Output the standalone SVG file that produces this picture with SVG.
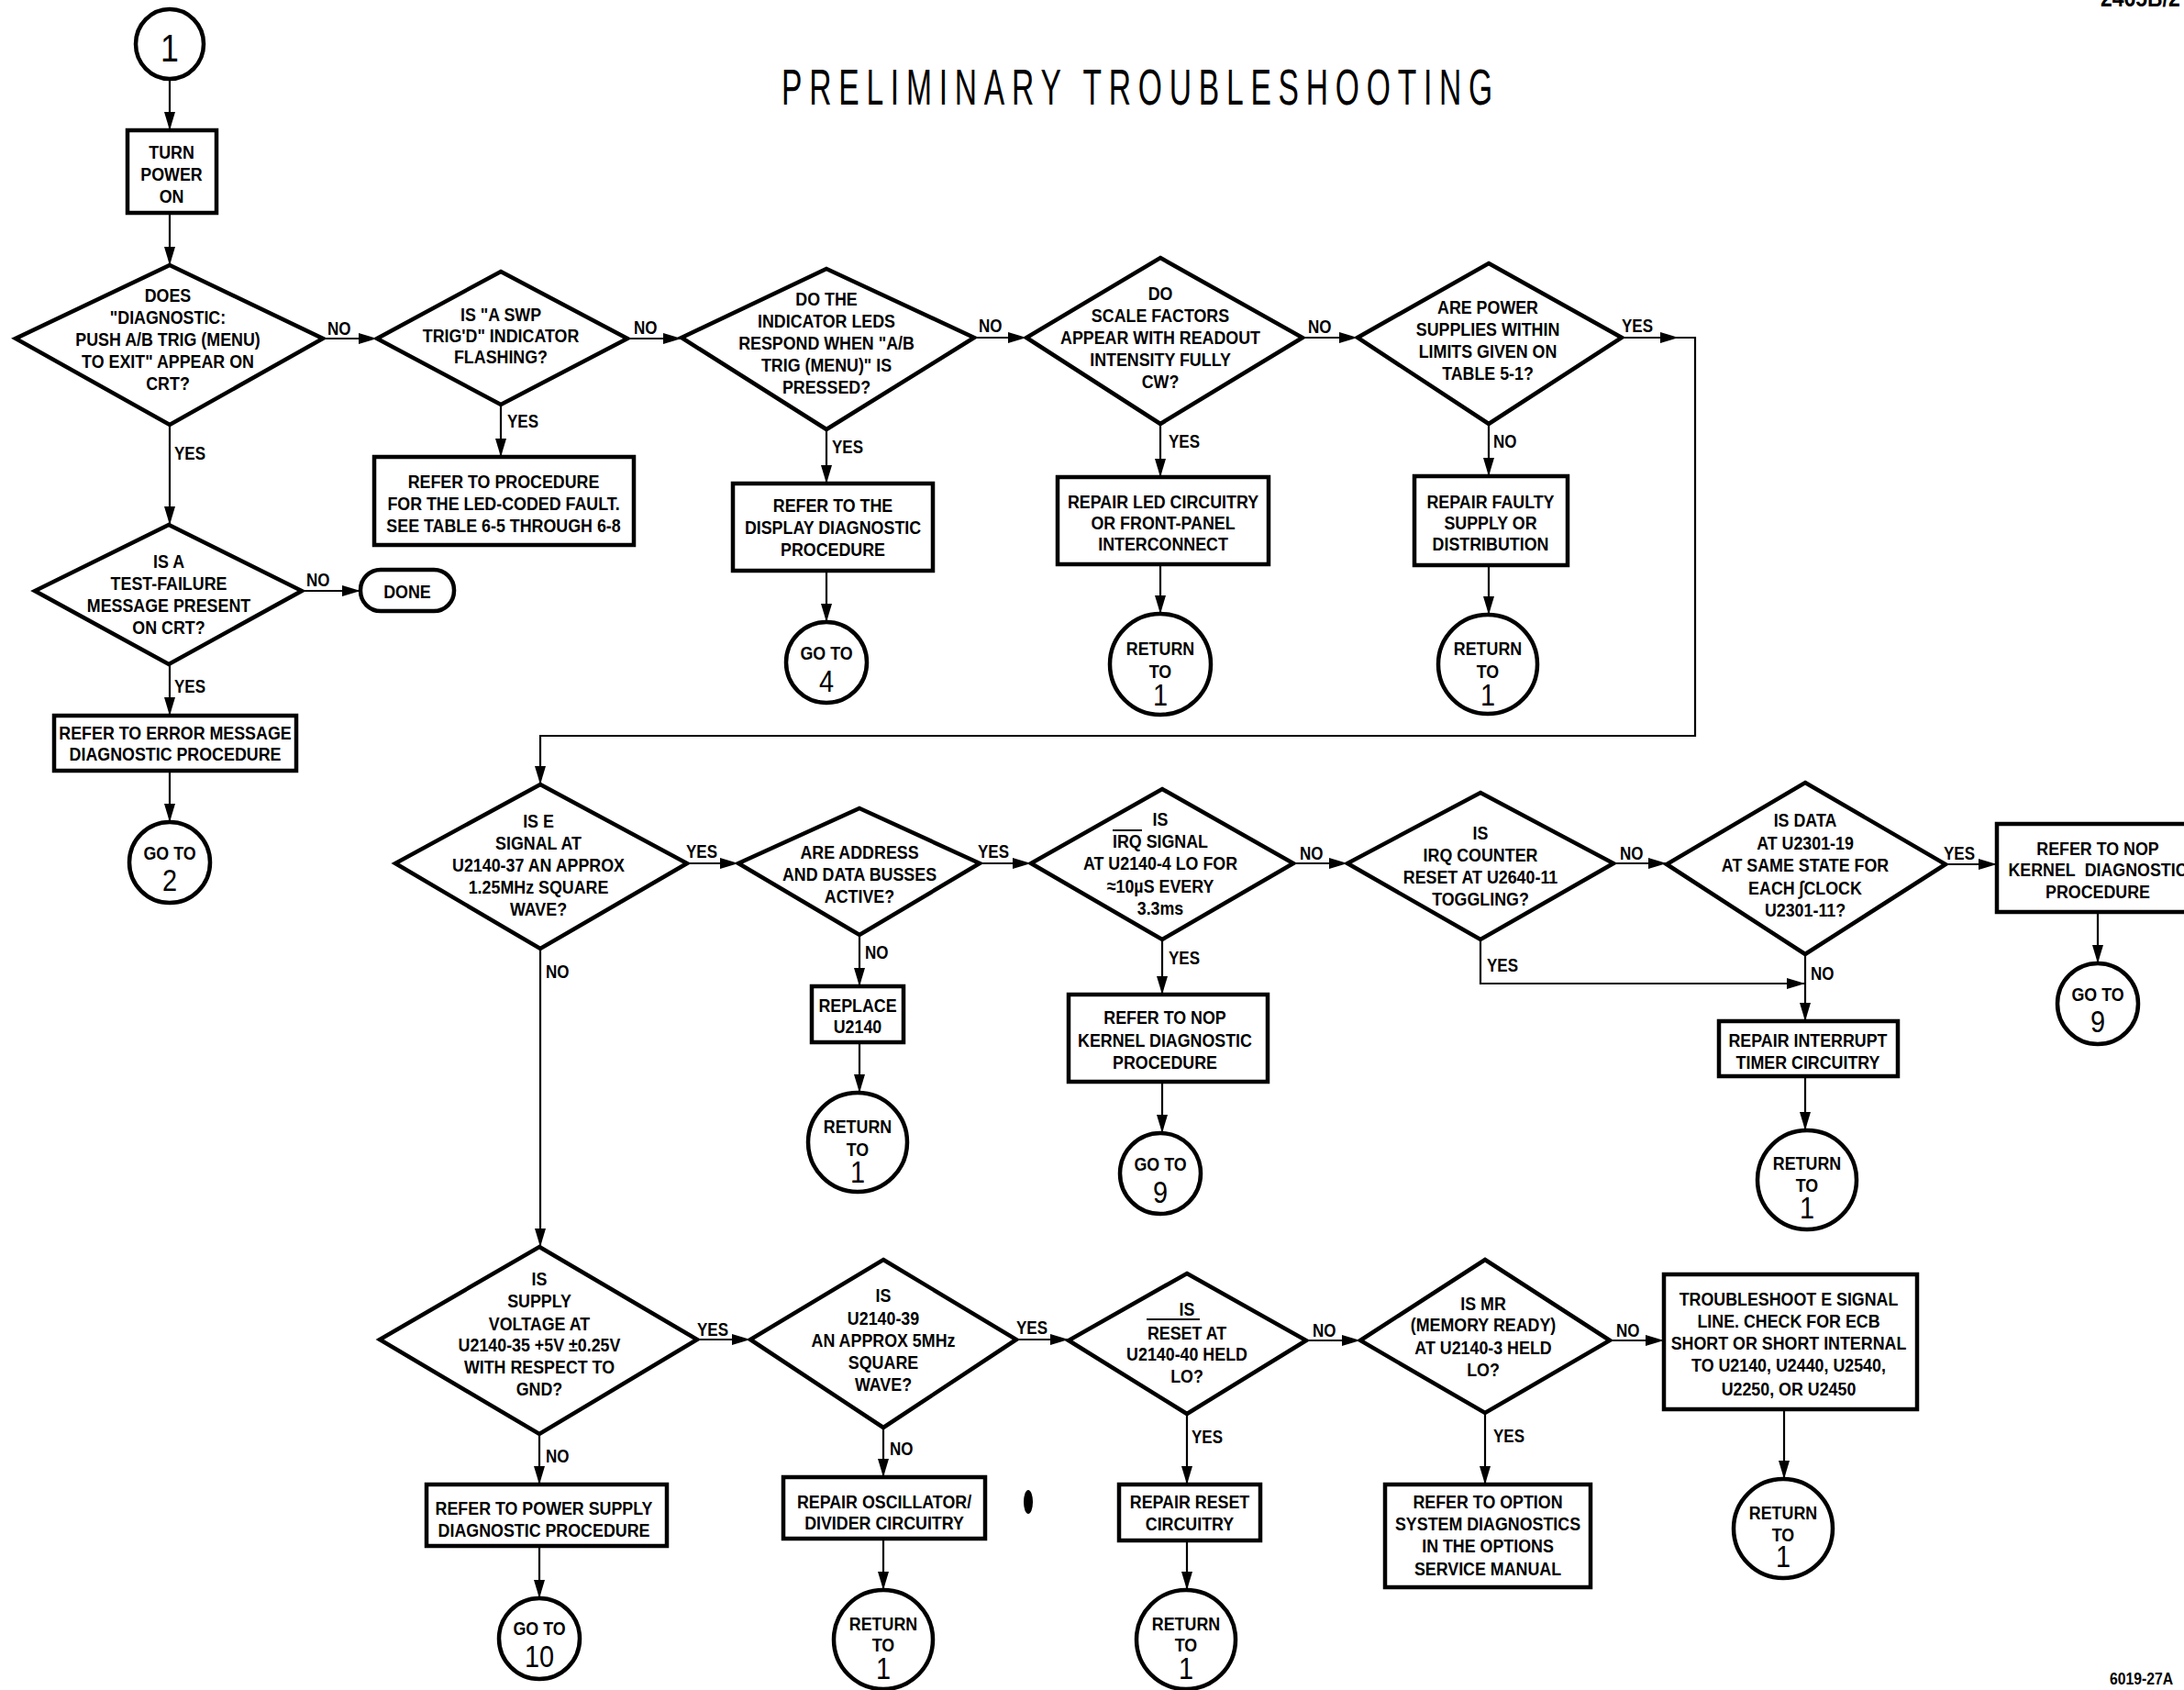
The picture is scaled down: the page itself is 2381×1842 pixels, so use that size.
<svg xmlns="http://www.w3.org/2000/svg" width="2381" height="1842" viewBox="0 0 2381 1842">
<style>
.n{fill:#fff;stroke:#000;stroke-width:4.5;stroke-linejoin:miter}
.c{fill:none;stroke:#000;stroke-width:2.2}
.t{font-family:"Liberation Sans",Arial,sans-serif;font-weight:700;font-size:21px;text-anchor:middle;fill:#000}
.l{font-family:"Liberation Sans",Arial,sans-serif;font-weight:700;font-size:20px;text-anchor:start;fill:#000}
.num{font-family:"Liberation Sans",Arial,sans-serif;font-weight:400;font-size:34px;text-anchor:middle;fill:#000}
.title{font-family:"Liberation Sans",Arial,sans-serif;font-weight:400;font-size:56px;fill:#000}
.bar{stroke:#000;stroke-width:2}
</style>
<defs>
<marker id="ah" markerUnits="userSpaceOnUse" markerWidth="20" markerHeight="12" refX="20" refY="6" orient="auto"><path d="M0,0 L20,6 L0,12 z" fill="#000"/></marker>
</defs>
<rect x="0" y="0" width="2381" height="1842" fill="#fff"/>

<text class="title" transform="translate(852 114) scale(0.6 1)" textLength="1292" lengthAdjust="spacing">PRELIMINARY TROUBLESHOOTING</text>
<text class="l" transform="translate(2290 7) scale(0.85 1)" style="font-size:27px">2465B/2</text>
<text class="l" transform="translate(2300 1836) scale(0.83 1)" style="font-size:19px">6019-27A</text>

<g id="connectors">
<line class="c" x1="185" y1="86" x2="185" y2="142" marker-end="url(#ah)"/>
<line class="c" x1="185" y1="232" x2="185" y2="289" marker-end="url(#ah)"/>
<line class="c" x1="352" y1="369" x2="411" y2="369" marker-end="url(#ah)"/>
<line class="c" x1="546" y1="441" x2="546" y2="498" marker-end="url(#ah)"/>
<line class="c" x1="684" y1="369" x2="743" y2="369" marker-end="url(#ah)"/>
<line class="c" x1="901" y1="468" x2="901" y2="527" marker-end="url(#ah)"/>
<line class="c" x1="901" y1="622" x2="901" y2="678" marker-end="url(#ah)"/>
<line class="c" x1="1062" y1="368" x2="1119" y2="368" marker-end="url(#ah)"/>
<line class="c" x1="1265" y1="462" x2="1265" y2="520" marker-end="url(#ah)"/>
<line class="c" x1="1265" y1="615" x2="1265" y2="669" marker-end="url(#ah)"/>
<line class="c" x1="1420" y1="368" x2="1480" y2="368" marker-end="url(#ah)"/>
<line class="c" x1="1623" y1="462" x2="1623" y2="519" marker-end="url(#ah)"/>
<line class="c" x1="1623" y1="616" x2="1623" y2="670" marker-end="url(#ah)"/>
<line class="c" x1="1768" y1="368" x2="1830" y2="368" marker-end="url(#ah)"/>
<polyline class="c" points="1830,368 1848,368 1848,802 589,802 589,855" marker-end="url(#ah)"/>
<line class="c" x1="185" y1="463" x2="185" y2="572" marker-end="url(#ah)"/>
<line class="c" x1="329" y1="644" x2="393" y2="644" marker-end="url(#ah)"/>
<line class="c" x1="185" y1="724" x2="185" y2="780" marker-end="url(#ah)"/>
<line class="c" x1="185" y1="840" x2="185" y2="896" marker-end="url(#ah)"/>
<line class="c" x1="749" y1="941" x2="805" y2="941" marker-end="url(#ah)"/>
<line class="c" x1="937" y1="1019" x2="937" y2="1075" marker-end="url(#ah)"/>
<line class="c" x1="937" y1="1136" x2="937" y2="1191" marker-end="url(#ah)"/>
<line class="c" x1="1068" y1="941" x2="1124" y2="941" marker-end="url(#ah)"/>
<line class="c" x1="1267" y1="1024" x2="1267" y2="1084" marker-end="url(#ah)"/>
<line class="c" x1="1267" y1="1179" x2="1267" y2="1235" marker-end="url(#ah)"/>
<line class="c" x1="1410" y1="941" x2="1469" y2="941" marker-end="url(#ah)"/>
<line class="c" x1="1759" y1="941" x2="1817" y2="941" marker-end="url(#ah)"/>
<polyline class="c" points="1614,1024 1614,1072 1968,1072" marker-end="url(#ah)"/>
<line class="c" x1="1968" y1="1040" x2="1968" y2="1113" marker-end="url(#ah)"/>
<line class="c" x1="1968" y1="1173" x2="1968" y2="1232" marker-end="url(#ah)"/>
<line class="c" x1="2121" y1="942" x2="2177" y2="942" marker-end="url(#ah)"/>
<line class="c" x1="2287" y1="994" x2="2287" y2="1050" marker-end="url(#ah)"/>
<line class="c" x1="589" y1="1034" x2="589" y2="1359" marker-end="url(#ah)"/>
<line class="c" x1="588" y1="1563" x2="588" y2="1618" marker-end="url(#ah)"/>
<line class="c" x1="588" y1="1685" x2="588" y2="1742" marker-end="url(#ah)"/>
<line class="c" x1="760" y1="1460" x2="818" y2="1460" marker-end="url(#ah)"/>
<line class="c" x1="963" y1="1556" x2="963" y2="1610" marker-end="url(#ah)"/>
<line class="c" x1="963" y1="1677" x2="963" y2="1733" marker-end="url(#ah)"/>
<line class="c" x1="1108" y1="1460" x2="1165" y2="1460" marker-end="url(#ah)"/>
<line class="c" x1="1294" y1="1541" x2="1294" y2="1618" marker-end="url(#ah)"/>
<line class="c" x1="1294" y1="1679" x2="1294" y2="1733" marker-end="url(#ah)"/>
<line class="c" x1="1424" y1="1461" x2="1483" y2="1461" marker-end="url(#ah)"/>
<line class="c" x1="1619" y1="1540" x2="1619" y2="1618" marker-end="url(#ah)"/>
<line class="c" x1="1755" y1="1461" x2="1814" y2="1461" marker-end="url(#ah)"/>
<line class="c" x1="1945" y1="1536" x2="1945" y2="1612" marker-end="url(#ah)"/>
</g>

<g id="labels">
<text class="l" transform="translate(357 365) scale(0.85 1)">NO</text>
<text class="l" transform="translate(691 364) scale(0.85 1)">NO</text>
<text class="l" transform="translate(1067 362) scale(0.85 1)">NO</text>
<text class="l" transform="translate(1426 363) scale(0.85 1)">NO</text>
<text class="l" transform="translate(1768 362) scale(0.85 1)">YES</text>
<text class="l" transform="translate(190 501) scale(0.85 1)">YES</text>
<text class="l" transform="translate(553 466) scale(0.85 1)">YES</text>
<text class="l" transform="translate(907 494) scale(0.85 1)">YES</text>
<text class="l" transform="translate(1274 488) scale(0.85 1)">YES</text>
<text class="l" transform="translate(1628 488) scale(0.85 1)">NO</text>
<text class="l" transform="translate(334 639) scale(0.85 1)">NO</text>
<text class="l" transform="translate(190 755) scale(0.85 1)">YES</text>
<text class="l" transform="translate(748 935) scale(0.85 1)">YES</text>
<text class="l" transform="translate(1066 935) scale(0.85 1)">YES</text>
<text class="l" transform="translate(1417 937) scale(0.85 1)">NO</text>
<text class="l" transform="translate(1766 937) scale(0.85 1)">NO</text>
<text class="l" transform="translate(2119 937) scale(0.85 1)">YES</text>
<text class="l" transform="translate(595 1066) scale(0.85 1)">NO</text>
<text class="l" transform="translate(943 1045) scale(0.85 1)">NO</text>
<text class="l" transform="translate(1274 1051) scale(0.85 1)">YES</text>
<text class="l" transform="translate(1621 1059) scale(0.85 1)">YES</text>
<text class="l" transform="translate(1974 1068) scale(0.85 1)">NO</text>
<text class="l" transform="translate(760 1456) scale(0.85 1)">YES</text>
<text class="l" transform="translate(1108 1454) scale(0.85 1)">YES</text>
<text class="l" transform="translate(1431 1457) scale(0.85 1)">NO</text>
<text class="l" transform="translate(1762 1457) scale(0.85 1)">NO</text>
<text class="l" transform="translate(595 1594) scale(0.85 1)">NO</text>
<text class="l" transform="translate(970 1586) scale(0.85 1)">NO</text>
<text class="l" transform="translate(1299 1573) scale(0.85 1)">YES</text>
<text class="l" transform="translate(1628 1572) scale(0.85 1)">YES</text>
</g>

<g id="start1">
<ellipse class="n" cx="185" cy="48" rx="37" ry="38"/>
<text class="num" transform="translate(185 67) scale(0.85 1)" style="font-size:42px">1</text>
</g>
<g id="turn-power-on">
<rect class="n" x="139" y="142" width="97" height="90"/>
<text class="t" transform="translate(187 0) scale(0.85 1)"><tspan x="0" y="173">TURN</tspan><tspan x="0" y="197">POWER</tspan><tspan x="0" y="221">ON</tspan></text>
</g>
<g id="d-diagnostic">
<polygon class="n" points="185,289 352,369 185,463 17,369"/>
<text class="t" transform="translate(183 0) scale(0.85 1)"><tspan x="0" y="329.5">DOES</tspan><tspan x="0" y="353.5">"DIAGNOSTIC:</tspan><tspan x="0" y="377.5">PUSH A/B TRIG (MENU)</tspan><tspan x="0" y="401.5">TO EXIT" APPEAR ON</tspan><tspan x="0" y="425.5">CRT?</tspan></text>
</g>
<g id="d-swp">
<polygon class="n" points="546,296 684,369 546,441 411,369"/>
<text class="t" transform="translate(546 0) scale(0.85 1)"><tspan x="0" y="350.5">IS "A SWP</tspan><tspan x="0" y="373.5">TRIG'D" INDICATOR</tspan><tspan x="0" y="396.5">FLASHING?</tspan></text>
</g>
<g id="b-led-coded">
<rect class="n" x="408" y="498" width="283" height="96"/>
<text class="t" transform="translate(549 0) scale(0.85 1)"><tspan x="0" y="532">REFER TO PROCEDURE</tspan><tspan x="0" y="556">FOR THE LED-CODED FAULT.</tspan><tspan x="0" y="580">SEE TABLE 6-5 THROUGH 6-8</tspan></text>
</g>
<g id="d-leds">
<polygon class="n" points="901,293 1062,368 901,468 743,368"/>
<text class="t" transform="translate(901 0) scale(0.85 1)"><tspan x="0" y="333.5">DO THE</tspan><tspan x="0" y="357.5">INDICATOR LEDS</tspan><tspan x="0" y="381.5">RESPOND WHEN "A/B</tspan><tspan x="0" y="405.5">TRIG (MENU)" IS</tspan><tspan x="0" y="429.5">PRESSED?</tspan></text>
</g>
<g id="b-display">
<rect class="n" x="799" y="527" width="218" height="95"/>
<text class="t" transform="translate(908 0) scale(0.85 1)"><tspan x="0" y="558.5">REFER TO THE</tspan><tspan x="0" y="582.5">DISPLAY DIAGNOSTIC</tspan><tspan x="0" y="606.5">PROCEDURE</tspan></text>
</g>
<g id="goto4">
<circle class="n" cx="901" cy="722" r="44"/>
<text class="t" transform="translate(901 0) scale(0.85 1)"><tspan x="0" y="719">GO TO</tspan></text>
<text class="num" transform="translate(901 754) scale(0.85 1)">4</text>
</g>
<g id="d-scale">
<polygon class="n" points="1265,281 1420,368 1265,462 1119,368"/>
<text class="t" transform="translate(1265 0) scale(0.85 1)"><tspan x="0" y="327.5">DO</tspan><tspan x="0" y="351.5">SCALE FACTORS</tspan><tspan x="0" y="375.5">APPEAR WITH READOUT</tspan><tspan x="0" y="399.5">INTENSITY FULLY</tspan><tspan x="0" y="423.5">CW?</tspan></text>
</g>
<g id="b-led-circ">
<rect class="n" x="1153" y="520" width="230" height="95"/>
<text class="t" transform="translate(1268 0) scale(0.85 1)"><tspan x="0" y="554.5">REPAIR LED CIRCUITRY</tspan><tspan x="0" y="577.5">OR FRONT-PANEL</tspan><tspan x="0" y="600.5">INTERCONNECT</tspan></text>
</g>
<g id="ret-a">
<circle class="n" cx="1265" cy="724" r="55"/>
<text class="t" transform="translate(1265 0) scale(0.85 1)"><tspan x="0" y="714.5">RETURN</tspan><tspan x="0" y="739.5">TO</tspan></text>
<text class="num" transform="translate(1265 769) scale(0.85 1)">1</text>
</g>
<g id="d-power">
<polygon class="n" points="1623,287 1768,368 1623,462 1480,368"/>
<text class="t" transform="translate(1622 0) scale(0.85 1)"><tspan x="0" y="342.5">ARE POWER</tspan><tspan x="0" y="366.5">SUPPLIES WITHIN</tspan><tspan x="0" y="390.5">LIMITS GIVEN ON</tspan><tspan x="0" y="414.5">TABLE 5-1?</tspan></text>
</g>
<g id="b-faulty">
<rect class="n" x="1542" y="519" width="167" height="97"/>
<text class="t" transform="translate(1625 0) scale(0.85 1)"><tspan x="0" y="554.5">REPAIR FAULTY</tspan><tspan x="0" y="577.5">SUPPLY OR</tspan><tspan x="0" y="600.5">DISTRIBUTION</tspan></text>
</g>
<g id="ret-b">
<circle class="n" cx="1622" cy="724" r="54"/>
<text class="t" transform="translate(1622 0) scale(0.85 1)"><tspan x="0" y="714.5">RETURN</tspan><tspan x="0" y="739.5">TO</tspan></text>
<text class="num" transform="translate(1622 769) scale(0.85 1)">1</text>
</g>
<g id="d-testfail">
<polygon class="n" points="184,572 329,644 184,724 38,644"/>
<text class="t" transform="translate(184 0) scale(0.85 1)"><tspan x="0" y="619.5">IS A</tspan><tspan x="0" y="643.5">TEST-FAILURE</tspan><tspan x="0" y="667.5">MESSAGE PRESENT</tspan><tspan x="0" y="691.5">ON CRT?</tspan></text>
</g>
<g id="done">
<rect class="n" x="393" y="621" width="102" height="45" rx="22" ry="22"/>
<text class="t" transform="translate(444 651.5) scale(0.85 1)">DONE</text>
</g>
<g id="b-error">
<rect class="n" x="59" y="780" width="264" height="60"/>
<text class="t" transform="translate(191 0) scale(0.85 1)"><tspan x="0" y="806.5">REFER TO ERROR MESSAGE</tspan><tspan x="0" y="829.5">DIAGNOSTIC PROCEDURE</tspan></text>
</g>
<g id="goto2">
<circle class="n" cx="185" cy="940" r="44"/>
<text class="t" transform="translate(185 0) scale(0.85 1)"><tspan x="0" y="937">GO TO</tspan></text>
<text class="num" transform="translate(185 971) scale(0.85 1)">2</text>
</g>
<g id="d-esignal">
<polygon class="n" points="589,855 749,941 589,1034 431,941"/>
<text class="t" transform="translate(587 0) scale(0.85 1)"><tspan x="0" y="902.5">IS E</tspan><tspan x="0" y="926.5">SIGNAL AT</tspan><tspan x="0" y="950.5">U2140-37 AN APPROX</tspan><tspan x="0" y="974.5">1.25MHz SQUARE</tspan><tspan x="0" y="998.5">WAVE?</tspan></text>
</g>
<g id="d-busses">
<polygon class="n" points="937,881 1068,941 937,1019 805,941"/>
<text class="t" transform="translate(937 0) scale(0.85 1)"><tspan x="0" y="936.5">ARE ADDRESS</tspan><tspan x="0" y="960.5">AND DATA BUSSES</tspan><tspan x="0" y="984.5">ACTIVE?</tspan></text>
</g>
<g id="b-replace">
<rect class="n" x="885" y="1075" width="100" height="61"/>
<text class="t" transform="translate(935 0) scale(0.85 1)"><tspan x="0" y="1103.5">REPLACE</tspan><tspan x="0" y="1126.5">U2140</tspan></text>
</g>
<g id="ret-c">
<circle class="n" cx="935" cy="1245" r="54"/>
<text class="t" transform="translate(935 0) scale(0.85 1)"><tspan x="0" y="1235.5">RETURN</tspan><tspan x="0" y="1260">TO</tspan></text>
<text class="num" transform="translate(935 1289) scale(0.85 1)">1</text>
</g>
<g id="d-irq">
<polygon class="n" points="1267,860 1410,941 1267,1024 1124,941"/>
<text class="t" transform="translate(1265 0) scale(0.85 1)"><tspan x="0" y="900.5">IS</tspan><tspan x="0" y="924.5">IRQ SIGNAL</tspan><tspan x="0" y="948.5">AT U2140-4 LO FOR</tspan><tspan x="0" y="973">≈10µS EVERY</tspan><tspan x="0" y="997">3.3ms</tspan></text>
<line class="bar" x1="1213" y1="905" x2="1245" y2="905"/>
</g>
<g id="b-nop1">
<rect class="n" x="1165" y="1084" width="217" height="95"/>
<text class="t" transform="translate(1270 0) scale(0.85 1)"><tspan x="0" y="1116.5">REFER TO NOP</tspan><tspan x="0" y="1141">KERNEL DIAGNOSTIC</tspan><tspan x="0" y="1165">PROCEDURE</tspan></text>
</g>
<g id="goto9a">
<circle class="n" cx="1265" cy="1279" r="44"/>
<text class="t" transform="translate(1265 0) scale(0.85 1)"><tspan x="0" y="1276">GO TO</tspan></text>
<text class="num" transform="translate(1265 1311) scale(0.85 1)">9</text>
</g>
<g id="d-irqcounter">
<polygon class="n" points="1614,864 1759,941 1614,1024 1469,941"/>
<text class="t" transform="translate(1614 0) scale(0.85 1)"><tspan x="0" y="915.5">IS</tspan><tspan x="0" y="939.5">IRQ COUNTER</tspan><tspan x="0" y="963.5">RESET AT U2640-11</tspan><tspan x="0" y="987.5">TOGGLING?</tspan></text>
</g>
<g id="d-data">
<polygon class="n" points="1968,853 2121,942 1968,1040 1817,942"/>
<text class="t" transform="translate(1968 0) scale(0.85 1)"><tspan x="0" y="901.5">IS DATA</tspan><tspan x="0" y="926">AT U2301-19</tspan><tspan x="0" y="950">AT SAME STATE FOR</tspan><tspan x="0" y="975">EACH ∫CLOCK</tspan><tspan x="0" y="999">U2301-11?</tspan></text>
</g>
<g id="b-nop2">
<rect class="n" x="2177" y="898" width="228" height="96"/>
<text class="t" transform="translate(2287 0) scale(0.85 1)"><tspan x="0" y="932.5">REFER TO NOP</tspan><tspan x="0" y="955.5">KERNEL&#160; DIAGNOSTIC</tspan><tspan x="0" y="979.5">PROCEDURE</tspan></text>
</g>
<g id="goto9b">
<circle class="n" cx="2287" cy="1094" r="44"/>
<text class="t" transform="translate(2287 0) scale(0.85 1)"><tspan x="0" y="1091">GO TO</tspan></text>
<text class="num" transform="translate(2287 1125) scale(0.85 1)">9</text>
</g>
<g id="b-interrupt">
<rect class="n" x="1874" y="1113" width="195" height="60"/>
<text class="t" transform="translate(1971 0) scale(0.85 1)"><tspan x="0" y="1141.5">REPAIR INTERRUPT</tspan><tspan x="0" y="1165.5">TIMER CIRCUITRY</tspan></text>
</g>
<g id="ret-d">
<circle class="n" cx="1970" cy="1286" r="54"/>
<text class="t" transform="translate(1970 0) scale(0.85 1)"><tspan x="0" y="1275.5">RETURN</tspan><tspan x="0" y="1299.5">TO</tspan></text>
<text class="num" transform="translate(1970 1328) scale(0.85 1)">1</text>
</g>
<g id="d-supply">
<polygon class="n" points="588,1359 760,1460 588,1563 414,1460"/>
<text class="t" transform="translate(588 0) scale(0.85 1)"><tspan x="0" y="1401.5">IS</tspan><tspan x="0" y="1425.5">SUPPLY</tspan><tspan x="0" y="1449.5">VOLTAGE AT</tspan><tspan x="0" y="1473.5">U2140-35 +5V ±0.25V</tspan><tspan x="0" y="1497.5">WITH RESPECT TO</tspan><tspan x="0" y="1521.5">GND?</tspan></text>
</g>
<g id="b-powersupply">
<rect class="n" x="465" y="1618" width="262" height="67"/>
<text class="t" transform="translate(593 0) scale(0.85 1)"><tspan x="0" y="1651.5">REFER TO POWER SUPPLY</tspan><tspan x="0" y="1675.5">DIAGNOSTIC PROCEDURE</tspan></text>
</g>
<g id="goto10">
<circle class="n" cx="588" cy="1786" r="44"/>
<text class="t" transform="translate(588 0) scale(0.85 1)"><tspan x="0" y="1782.5">GO TO</tspan></text>
<text class="num" transform="translate(588 1817) scale(0.85 1)">10</text>
</g>
<g id="d-5mhz">
<polygon class="n" points="963,1373 1108,1460 963,1556 818,1460"/>
<text class="t" transform="translate(963 0) scale(0.85 1)"><tspan x="0" y="1419.5">IS</tspan><tspan x="0" y="1444.5">U2140-39</tspan><tspan x="0" y="1468.5">AN APPROX 5MHz</tspan><tspan x="0" y="1492.5">SQUARE</tspan><tspan x="0" y="1516.5">WAVE?</tspan></text>
</g>
<g id="b-osc">
<rect class="n" x="854" y="1610" width="220" height="67"/>
<text class="t" transform="translate(964 0) scale(0.85 1)"><tspan x="0" y="1644.5">REPAIR OSCILLATOR/</tspan><tspan x="0" y="1667.5">DIVIDER CIRCUITRY</tspan></text>
</g>
<g id="ret-e">
<circle class="n" cx="963" cy="1787" r="54"/>
<text class="t" transform="translate(963 0) scale(0.85 1)"><tspan x="0" y="1777.5">RETURN</tspan><tspan x="0" y="1800.5">TO</tspan></text>
<text class="num" transform="translate(963 1830) scale(0.85 1)">1</text>
</g>
<ellipse cx="1121" cy="1637" rx="5" ry="13" fill="#000"/>
<g id="d-reset">
<polygon class="n" points="1294,1388 1424,1461 1294,1541 1165,1461"/>
<text class="t" transform="translate(1294 0) scale(0.85 1)"><tspan x="0" y="1434.5">IS</tspan><tspan x="0" y="1460.5">RESET AT</tspan><tspan x="0" y="1483.5">U2140-40 HELD</tspan><tspan x="0" y="1507.5">LO?</tspan></text>
<line class="bar" x1="1250" y1="1438" x2="1308" y2="1438"/>
</g>
<g id="b-reset">
<rect class="n" x="1220" y="1618" width="154" height="61"/>
<text class="t" transform="translate(1297 0) scale(0.85 1)"><tspan x="0" y="1644.5">REPAIR RESET</tspan><tspan x="0" y="1668.5">CIRCUITRY</tspan></text>
</g>
<g id="ret-f">
<circle class="n" cx="1293" cy="1787" r="54"/>
<text class="t" transform="translate(1293 0) scale(0.85 1)"><tspan x="0" y="1777.5">RETURN</tspan><tspan x="0" y="1800.5">TO</tspan></text>
<text class="num" transform="translate(1293 1830) scale(0.85 1)">1</text>
</g>
<g id="d-mr">
<polygon class="n" points="1619,1373 1755,1461 1619,1540 1483,1461"/>
<text class="t" transform="translate(1617 0) scale(0.85 1)"><tspan x="0" y="1428.5">IS MR</tspan><tspan x="0" y="1451.5">(MEMORY READY)</tspan><tspan x="0" y="1476.5">AT U2140-3 HELD</tspan><tspan x="0" y="1500.5">LO?</tspan></text>
</g>
<g id="b-option">
<rect class="n" x="1510" y="1618" width="224" height="112"/>
<text class="t" transform="translate(1622 0) scale(0.85 1)"><tspan x="0" y="1644.5">REFER TO OPTION</tspan><tspan x="0" y="1668.5">SYSTEM DIAGNOSTICS</tspan><tspan x="0" y="1692.5">IN THE OPTIONS</tspan><tspan x="0" y="1717.5">SERVICE MANUAL</tspan></text>
</g>
<g id="b-troubleshoot">
<rect class="n" x="1814" y="1389" width="276" height="147"/>
<text class="t" transform="translate(1950 0) scale(0.85 1)"><tspan x="0" y="1423.5">TROUBLESHOOT E SIGNAL</tspan><tspan x="0" y="1447.5">LINE. CHECK FOR ECB</tspan><tspan x="0" y="1471.5">SHORT OR SHORT INTERNAL</tspan><tspan x="0" y="1495.5">TO U2140, U2440, U2540,</tspan><tspan x="0" y="1520.5">U2250, OR U2450</tspan></text>
</g>
<g id="ret-g">
<circle class="n" cx="1944" cy="1666" r="54"/>
<text class="t" transform="translate(1944 0) scale(0.85 1)"><tspan x="0" y="1656.5">RETURN</tspan><tspan x="0" y="1680.5">TO</tspan></text>
<text class="num" transform="translate(1944 1708) scale(0.85 1)">1</text>
</g>
</svg>
